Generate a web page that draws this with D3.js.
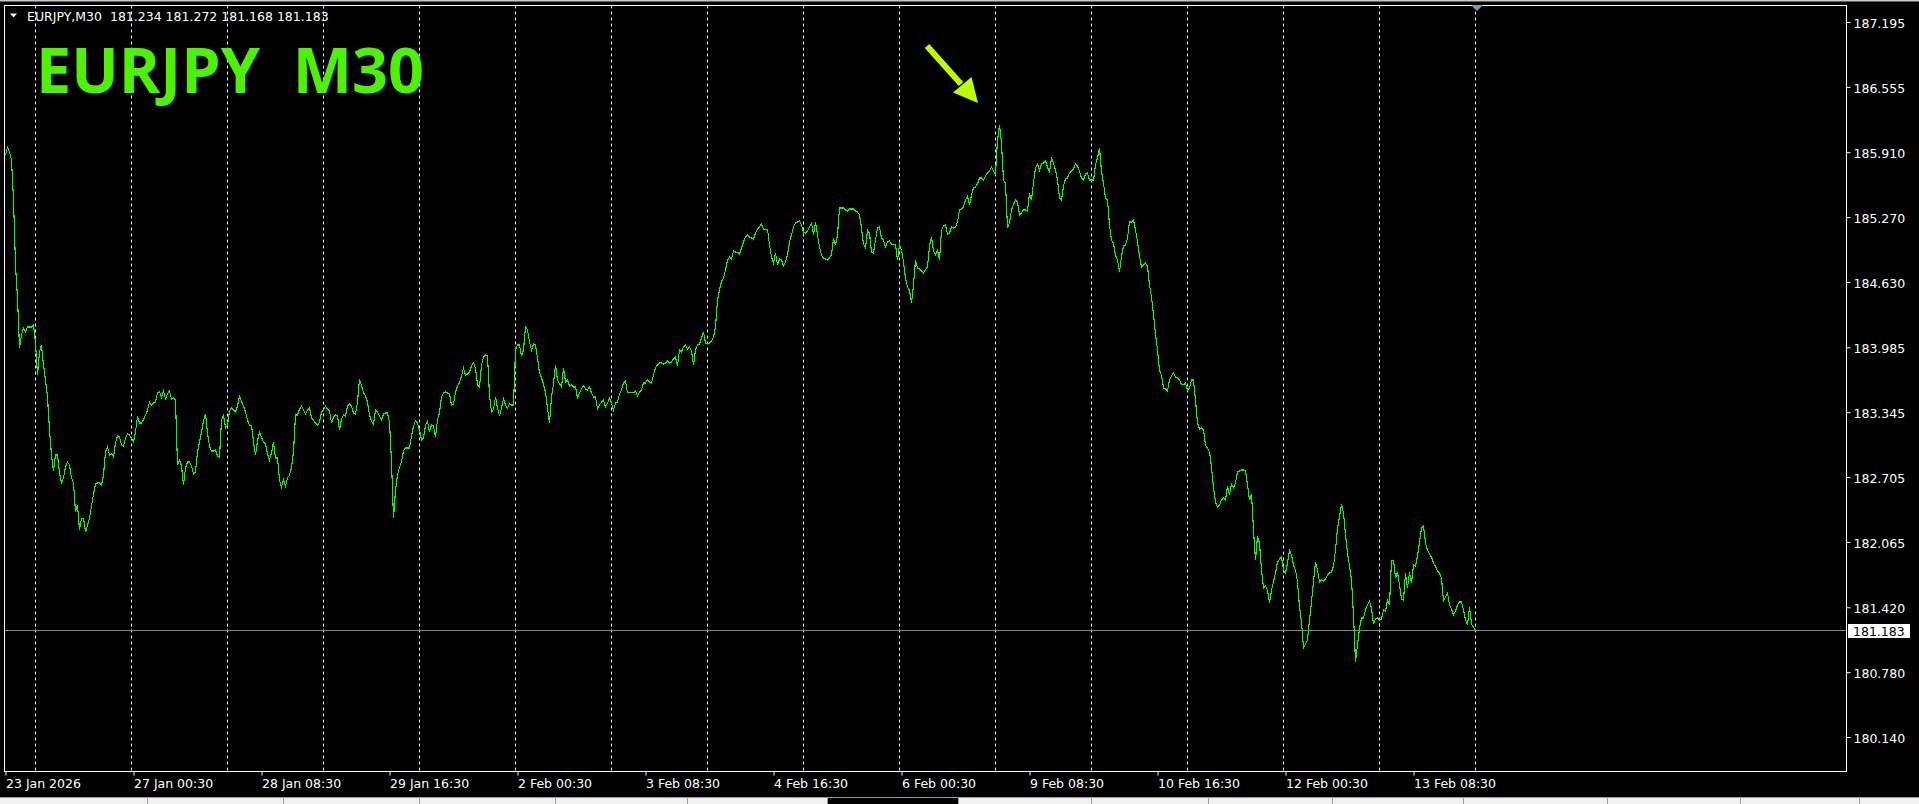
<!DOCTYPE html>
<html><head><meta charset="utf-8">
<script src="https://cdn.jsdelivr.net/npm/d3@7"></script>
<style>
html,body{margin:0;padding:0;background:#000;overflow:hidden;}
svg{display:block;}
</style></head><body>
<svg id="chart" width="1919" height="804"></svg>
<script>
// ---------------- data ----------------
const symbolTitle = "EURJPY  M30";
const headerText = "EURJPY,M30  181.234 181.272 181.168 181.183";
const lastPrice = 181.183;
const yTickValues = [187.195,186.555,185.910,185.270,184.630,183.985,183.345,182.705,182.065,181.420,180.780,180.140];
const xTickBars = [0,64,128,192,256,320,384,448,512,576,640,704];
const xTickLabels = ["23 Jan 2026","27 Jan 00:30","28 Jan 08:30","29 Jan 16:30","2 Feb 00:30","3 Feb 08:30","4 Feb 16:30","6 Feb 00:30","9 Feb 08:30","10 Feb 16:30","12 Feb 00:30","13 Feb 08:30"];
const separatorBars = [15,63,111,159,207,255,303,351,399,447,495,543,591,639,687,735];
// M30 close prices, one per bar (bar 0 = 23 Jan 16:30)
const closes = [
185.883,185.961,185.912,185.833,185.439,184.797,184.472,183.979,184.107,184.176,184.136,184.186,184.186,184.186,184.205,184.027,
183.712,183.939,184.008,183.811,183.663,183.495,183.169,182.923,182.765,182.923,182.923,182.745,182.647,182.696,182.804,182.854,
182.824,182.696,182.647,182.360,182.429,182.182,182.300,182.300,182.162,182.231,182.300,182.419,182.537,182.637,182.647,182.647,
182.627,182.725,182.952,183.002,182.923,182.933,182.903,183.041,183.110,183.100,183.021,183.011,183.090,183.130,183.120,183.090,
183.051,183.149,183.307,183.238,183.238,183.268,183.317,183.366,183.445,183.416,183.435,183.445,183.535,183.545,183.495,183.555,
183.475,183.525,183.555,183.475,183.485,183.465,182.824,182.873,182.814,182.627,182.795,182.854,182.854,182.814,182.735,182.755,
182.952,183.051,183.149,183.258,183.327,183.140,183.011,182.962,182.962,182.972,182.913,182.903,183.268,183.317,183.189,183.218,
183.357,183.386,183.366,183.346,183.406,183.505,183.455,183.406,183.346,183.268,183.218,183.218,183.051,182.923,183.061,183.149,
183.100,183.051,183.031,182.933,182.873,182.942,183.051,182.893,182.893,182.676,182.607,182.676,182.617,182.696,182.725,182.795,
182.952,183.317,183.317,183.376,183.406,183.366,183.327,183.366,183.386,183.287,183.268,183.238,183.218,183.248,183.346,183.366,
183.406,183.376,183.357,183.238,183.297,183.317,183.307,183.169,183.277,183.317,183.307,183.406,183.425,183.406,183.337,183.327,
183.445,183.673,183.604,183.535,183.505,183.445,183.317,183.258,183.228,183.366,183.346,183.307,183.268,183.327,183.337,183.337,
183.248,182.854,182.300,182.577,182.725,182.804,182.854,182.962,182.992,182.992,182.992,183.110,183.208,183.258,183.238,183.169,
183.070,183.090,183.218,183.258,183.149,183.218,183.208,183.100,183.268,183.337,183.495,183.535,183.545,183.535,183.525,183.416,
183.425,183.545,183.604,183.633,183.702,183.781,183.712,183.722,183.742,183.801,183.831,183.781,183.614,183.594,183.811,183.890,
183.909,183.900,183.515,183.346,183.376,183.495,183.386,183.307,183.386,183.475,183.416,183.386,183.425,183.416,183.416,183.959,
184.008,184.008,183.900,183.959,184.186,184.156,184.037,183.959,184.017,184.008,183.880,183.732,183.683,183.624,183.535,183.386,
183.238,183.495,183.624,183.811,183.663,183.624,183.594,183.781,183.643,183.663,183.604,183.614,183.594,183.594,183.485,183.535,
183.574,183.604,183.574,183.564,183.594,183.535,183.495,183.495,183.376,183.416,183.445,183.465,183.396,183.435,183.485,183.435,
183.366,183.435,183.445,183.525,183.564,183.633,183.653,183.535,183.535,183.535,183.535,183.555,183.505,183.545,183.564,183.633,
183.633,183.663,183.643,183.633,183.712,183.781,183.811,183.831,183.831,183.821,183.831,183.850,183.831,183.841,183.870,183.890,
183.801,183.959,183.939,183.988,184.008,183.969,183.988,183.949,183.811,183.959,184.008,184.017,184.077,184.136,184.027,184.027,
184.027,184.047,184.087,184.186,184.452,184.551,184.639,184.669,184.748,184.846,184.876,184.856,184.935,184.925,184.925,184.905,
184.965,185.024,185.073,185.093,185.073,185.063,185.053,185.113,185.152,185.172,185.202,185.152,185.152,185.152,184.995,184.876,
184.817,184.915,184.797,184.856,184.846,184.787,184.827,184.896,185.024,185.093,185.172,185.212,185.222,185.231,185.192,185.123,
185.113,185.133,185.172,185.212,185.093,185.222,185.093,184.975,184.896,184.866,184.856,184.846,184.866,184.896,185.063,184.995,
185.093,185.360,185.360,185.360,185.340,185.330,185.350,185.350,185.350,185.330,185.320,185.291,185.163,185.004,184.965,185.143,
185.113,184.925,184.915,185.044,185.163,185.172,185.063,185.044,184.975,185.024,185.034,185.004,185.004,184.995,184.846,184.995,
184.945,184.827,184.669,184.580,184.551,184.422,184.600,184.846,184.768,184.758,184.738,184.718,184.748,184.778,184.985,185.073,
184.935,184.896,184.945,184.846,185.143,185.182,185.192,185.103,185.113,185.172,185.163,185.172,185.222,185.340,185.350,185.370,
185.439,185.478,185.389,185.488,185.557,185.567,185.597,185.656,185.656,185.636,185.676,185.705,185.725,185.764,185.725,185.695,
186.030,186.179,186.001,185.636,185.606,185.163,185.212,185.340,185.389,185.439,185.419,185.291,185.310,185.340,185.340,185.330,
185.508,185.439,185.606,185.755,185.794,185.735,185.794,185.804,185.824,185.764,185.715,185.853,185.804,185.735,185.636,185.458,
185.439,185.577,185.646,185.656,185.705,185.725,185.745,185.794,185.774,185.725,185.656,185.636,185.695,185.705,185.636,185.636,
185.636,185.784,185.853,185.952,185.715,185.606,185.458,185.439,185.192,185.044,185.014,184.896,184.846,184.728,184.886,184.985,
184.995,185.063,185.222,185.222,185.241,185.143,185.024,184.886,184.778,184.797,184.817,184.787,184.600,184.481,184.304,184.116,
183.959,183.761,183.712,183.584,183.574,183.555,183.663,183.702,183.732,183.693,183.683,183.663,183.614,183.614,183.633,183.564,
183.584,183.663,183.663,183.465,183.238,183.179,183.189,183.169,183.021,182.992,182.952,182.804,182.597,182.458,182.409,182.429,
182.478,182.498,182.478,182.617,182.528,182.637,182.597,182.647,182.755,182.765,182.775,182.775,182.765,182.627,182.478,182.538,
182.182,181.886,182.123,182.054,181.788,181.610,181.630,181.590,181.462,181.590,181.669,181.758,181.866,181.896,181.916,181.788,
181.758,181.857,181.985,181.936,181.837,181.788,181.669,181.423,181.275,181.018,181.057,181.097,181.295,181.472,181.669,181.866,
181.788,181.669,181.689,181.679,181.699,181.738,181.758,181.768,181.827,181.985,182.202,182.310,182.439,182.350,182.133,181.955,
181.827,181.689,181.344,180.880,181.048,181.215,181.314,181.314,181.393,181.443,181.482,181.413,181.255,181.305,181.314,181.295,
181.305,181.393,181.383,181.492,181.443,181.886,181.886,181.709,181.768,181.640,181.502,181.492,181.758,181.610,181.768,181.659,
181.837,181.827,181.926,182.064,182.202,182.221,182.054,181.985,181.945,181.916,181.857,181.827,181.778,181.758,181.709,181.482,
181.522,181.561,181.443,181.403,181.344,181.383,181.443,181.472,181.472,181.393,181.295,181.245,181.423,181.255,181.225,181.183
];

// ---------------- layout ----------------
const W = 1919, H = 804;
const plot = {left: 4.5, top: 5.5, right: 1846.5, bottom: 771.5};
const svg = d3.select("#chart");
const smallFont = "DejaVu Sans, Verdana, sans-serif";

svg.append("rect").attr("width", W).attr("height", H).attr("fill", "#000");

// scales: 2 px per M30 bar
const xScale = d3.scaleLinear().domain([0, 920.5]).range([5, 1846]);
const yScale = d3.scaleLinear().domain([179.8048, 187.3627]).range([771, 5]);

// period separators
svg.append("g").selectAll("line").data(separatorBars).join("line")
  .attr("x1", d => Math.round(xScale(d)) + 0.5).attr("x2", d => Math.round(xScale(d)) + 0.5)
  .attr("y1", plot.top).attr("y2", plot.bottom)
  .attr("stroke", "#f2f2f2").attr("stroke-width", 1).attr("stroke-dasharray", "3,3");

// current price line
svg.append("line")
  .attr("x1", plot.left).attr("x2", plot.right)
  .attr("y1", Math.round(yScale(lastPrice)) - 0.5).attr("y2", Math.round(yScale(lastPrice)) - 0.5)
  .attr("stroke", "#778899").attr("stroke-width", 1);

// price line
const line = d3.line().x((d, i) => xScale(i) + 0.5).y(d => yScale(d));
svg.append("path").datum(closes)
  .attr("d", line).attr("fill", "none").attr("stroke", "#00ff00")
  .attr("stroke-width", 1.1).attr("shape-rendering", "crispEdges");

// frame
svg.append("rect").attr("x", plot.left).attr("y", plot.top)
  .attr("width", plot.right - plot.left).attr("height", plot.bottom - plot.top)
  .attr("fill", "none").attr("stroke", "#ffffff").attr("stroke-width", 1);

// y axis
const yAxis = d3.axisRight(yScale).tickValues(yTickValues).tickSize(4).tickPadding(3)
  .tickFormat(d3.format(".3f"));
const gy = svg.append("g").attr("transform", `translate(${plot.right},0)`).call(yAxis);
gy.select(".domain").remove();
gy.selectAll(".tick line").attr("stroke", "#fff");
gy.selectAll(".tick text").attr("fill", "#fff").attr("font-family", smallFont)
  .attr("font-size", "12.5px").attr("dy", "0.42em");

// x axis
const xAxis = d3.axisBottom(xScale).tickValues(xTickBars).tickSize(4).tickPadding(4)
  .tickFormat((d, i) => xTickLabels[i]);
const gx = svg.append("g").attr("transform", `translate(0.5,${plot.bottom})`).call(xAxis);
gx.select(".domain").remove();
gx.selectAll(".tick line").attr("stroke", "#fff");
gx.selectAll(".tick text").attr("fill", "#fff").attr("font-family", smallFont)
  .attr("font-size", "12.5px").attr("text-anchor", "start").attr("x", 0);

// current price label
const yl = Math.round(yScale(lastPrice));
svg.append("rect").attr("x", 1848).attr("y", yl - 7).attr("width", 62).attr("height", 14).attr("fill", "#fff");
svg.append("text").attr("x", 1853).attr("y", yl + 4.5).attr("fill", "#000")
  .attr("font-family", smallFont).attr("font-size", "12.5px").text(d3.format(".3f")(lastPrice));

// header
svg.append("path").attr("d", "M10,13.5 L17,13.5 L13.5,17.5 Z").attr("fill", "#fff");
svg.append("text").attr("x", 27).attr("y", 21).attr("fill", "#fff")
  .attr("font-family", smallFont).attr("font-size", "12.5px")
  .style("white-space", "pre").text(headerText);

// chart shift marker
const shiftX = xScale(closes.length - 1) + 2;
svg.append("path").attr("d", `M${shiftX - 6},5 L${shiftX + 6},5 L${shiftX},11 Z`).attr("fill", "#8a98a8");

// big title
const title = svg.append("text").attr("x", 36).attr("y", 93).attr("fill", "#4cf200")
  .attr("font-family", "Open Sans, Noto Sans, sans-serif").attr("font-weight", 700)
  .attr("font-size", "62px").style("white-space", "pre").text(symbolTitle);
const tw = title.node().getComputedTextLength();
if (tw > 0) title.attr("font-size", (62 * 388 / tw).toFixed(2) + "px");

// arrow pointing at the high
const peakIdx = d3.maxIndex(closes);
const tipX = xScale(peakIdx) - 21, tipY = yScale(closes[peakIdx]) - 22;
const arrowColor = "#bbff00";
svg.append("line").attr("x1", tipX - 51).attr("y1", tipY - 57).attr("x2", tipX - 17).attr("y2", tipY - 19)
  .attr("stroke", arrowColor).attr("stroke-width", 6);
svg.append("path")
  .attr("d", `M${tipX},${tipY} L${tipX - 25},${tipY - 10.5} L${tipX - 6.5},${tipY - 26} Z`)
  .attr("fill", arrowColor);

// window chrome: top line and bottom tab strip
svg.append("rect").attr("x", 0).attr("y", 0).attr("width", W).attr("height", 1.5).attr("fill", "#c8c8c8");
svg.append("rect").attr("x", 0).attr("y", 797).attr("width", W).attr("height", 1).attr("fill", "#9a9a9a");
svg.append("rect").attr("x", 0).attr("y", 798).attr("width", 828).attr("height", 6).attr("fill", "#f0f0f0");
svg.append("rect").attr("x", 958).attr("y", 798).attr("width", W - 958).attr("height", 6).attr("fill", "#f0f0f0");
const tabDividers = [147, 283, 419, 555, 687, 827, 958, 1091, 1208, 1332, 1463, 1607, 1740, 1859];
svg.append("g").selectAll("line").data(tabDividers).join("line")
  .attr("x1", d => d + 0.5).attr("x2", d => d + 0.5).attr("y1", 798).attr("y2", 804)
  .attr("stroke", "#a0a0a0");
</script>
</body></html>
